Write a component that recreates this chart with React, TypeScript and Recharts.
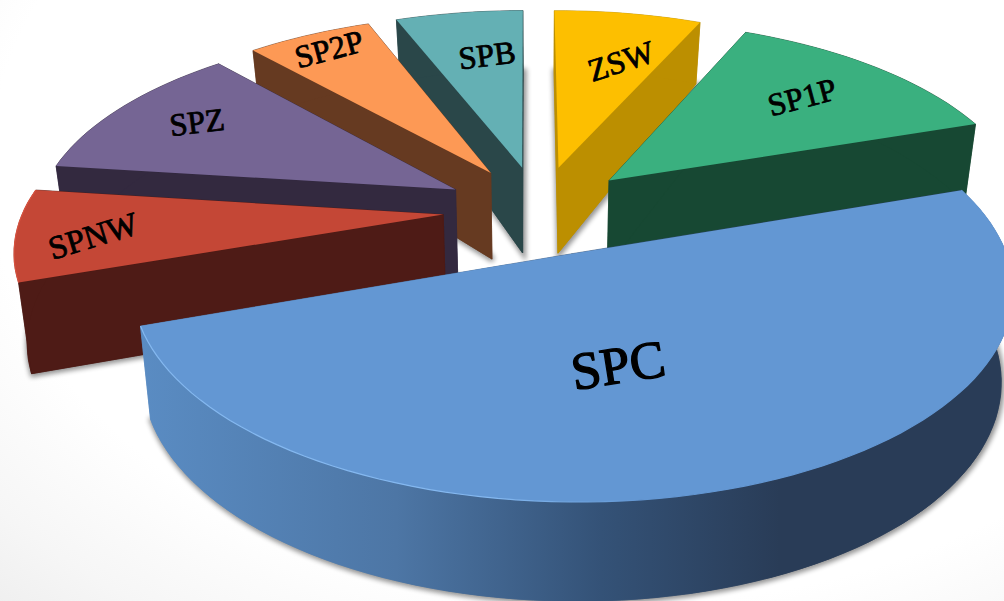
import React from 'react';
import { PieChart, Pie } from 'recharts';

const categories = ['SP1P', 'ZSW', 'SPB', 'SP2P', 'SPZ', 'SPNW', 'SPC'];
const shares = [13.2, 6.7, 5.8, 5.7, 11.4, 7.4, 49.9];

const faceColors = ['#3ab07f', '#fdbf00', '#64b0b4', '#fd9955', '#756594', '#c44736', '#6397d3'];
const wallColors = ['#174833', '#bc8f00', '#2a4749', '#663a21', '#33293f', '#4e1b16', 'url(#spcWall)'];
const rimColors = ['none', 'none', 'none', 'none', 'none', '#d9523f', 'url(#spcRim)'];

const labelX = [802, 621, 487, 329, 197, 93, 618];
const labelY = [97, 61, 55, 49, 122, 236, 365];
const labelAngle = [-15, -18, -7, -15, -7, -17, -9];
const labelSize = [32, 32, 32, 32, 32, 33, 53];

const data = categories.map((name, i) => ({ name, value: shares[i] }));

// perspective of the pie plane, fitted by eye
const CX = 539.5;
const CY = 210;
const RX = 419.5;
const RY = 194;
const PERSP = 0.157;
const EXPLODE = 0.23;
const RAD = Math.PI / 180;
const BACK_SLICE = 1; // ZSW sits behind SP1P, so it gets painted first

const project = (px: number, py: number) => {
  const f = 1 + PERSP * py;
  return { x: CX + (RX * px) / f, y: CY - (RY * py) / f };
};

const thickness = (py: number) => (py < 0.2 ? 87.9 - 9.3 * py : 86 - 26 * (py - 0.2));

const drop = (px: number, py: number) => {
  const p = project(px, py);
  return { x: CX + (p.x - CX) * 0.975, y: p.y + thickness(py) };
};

type Pt = { x: number; y: number };
const toPath = (pts: Pt[], close = true) =>
  pts.map((p, i) => `${i ? 'L' : 'M'}${p.x.toFixed(1)},${p.y.toFixed(1)}`).join('') + (close ? 'Z' : '');

const Slice3D = (props: any) => {
  const { startAngle, endAngle, index } = props;
  const mid = ((startAngle + endAngle) / 2) * RAD;
  const ox = EXPLODE * Math.cos(mid);
  const oy = EXPLODE * Math.sin(mid);
  const steps = Math.max(8, Math.ceil(Math.abs(endAngle - startAngle) / 2));
  const arc: [number, number][] = [];
  for (let s = 0; s <= steps; s++) {
    const a = (startAngle + ((endAngle - startAngle) * s) / steps) * RAD;
    arc.push([ox + Math.cos(a), oy + Math.sin(a)]);
  }
  const topArc = arc.map(([x, y]) => project(x, y));
  const lowArc = arc.map(([x, y]) => drop(x, y));
  const apexTop = project(ox, oy);
  const apexLow = drop(ox, oy);
  const wall = wallColors[index];
  const wallProps = { fill: wall, stroke: wall, strokeWidth: 0.6 };

  return (
    <g>
      <path
        d={toPath([apexLow, ...lowArc])}
        fill="#000"
        stroke="#000"
        strokeWidth={5}
        opacity={0.42}
        filter="url(#groundShadow)"
        transform="translate(1,1)"
      />
      <path d={toPath([apexLow, ...lowArc])} {...wallProps} />
      <path d={toPath([apexTop, topArc[0], lowArc[0], apexLow])} {...wallProps} />
      <path d={toPath([apexTop, topArc[steps], lowArc[steps], apexLow])} {...wallProps} />
      <path d={toPath([...topArc, ...[...lowArc].reverse()])} {...wallProps} />
      <path d={toPath([apexTop, ...topArc])} fill={faceColors[index]} />
      {rimColors[index] !== 'none' && (
        <path d={toPath(topArc, false)} fill="none" stroke={rimColors[index]} strokeWidth={1.2} />
      )}
    </g>
  );
};

const renderLabel = ({ index }: any) => (
  <text
    x={labelX[index]}
    y={labelY[index]}
    textAnchor="middle"
    dominantBaseline="central"
    transform={`rotate(${labelAngle[index]} ${labelX[index]} ${labelY[index]})`}
    fontFamily="'Liberation Serif', serif"
    fontSize={labelSize[index]}
    fill="#000"
    stroke="#000"
    strokeWidth={index === 6 ? 1.3 : 0.8}
  >
    {categories[index]}
  </text>
);

const pieProps = {
  data,
  dataKey: 'value',
  nameKey: 'name',
  cx: CX,
  cy: CY,
  outerRadius: 100,
  startAngle: 18.7,
  endAngle: 378.7,
  stroke: 'none',
  isAnimationActive: false,
};

const App = () => (
  <div
    style={{
      position: 'absolute',
      left: 0,
      top: 0,
      width: 1004,
      height: 601,
      overflow: 'hidden',
      background: 'radial-gradient(ellipse 900px 620px at 620px 170px, #ffffff 70%, #f6f6f6 88%, #eeeeee 100%)',
    }}
  >
    <PieChart width={1004} height={601} margin={{ top: 0, right: 0, bottom: 0, left: 0 }}>
      <defs>
        <linearGradient id="spcWall" gradientUnits="userSpaceOnUse" x1="140" y1="0" x2="780" y2="0">
          <stop offset="0%" stopColor="#5a8cc3" />
          <stop offset="40%" stopColor="#4d76a5" />
          <stop offset="72%" stopColor="#345277" />
          <stop offset="100%" stopColor="#293c57" />
        </linearGradient>
        <linearGradient id="spcRim" gradientUnits="userSpaceOnUse" x1="150" y1="0" x2="640" y2="0">
          <stop offset="0%" stopColor="#84b8f0" />
          <stop offset="70%" stopColor="#84b8f0" />
          <stop offset="100%" stopColor="#6397d3" />
        </linearGradient>
        <filter id="groundShadow" x="-10%" y="-10%" width="120%" height="120%">
          <feGaussianBlur stdDeviation="2.5" />
        </filter>
      </defs>
      <Pie {...pieProps} shape={(p: any) => (p.index === BACK_SLICE ? <Slice3D {...p} /> : <g />)} />
      <Pie
        {...pieProps}
        labelLine={false}
        label={renderLabel}
        shape={(p: any) => (p.index === BACK_SLICE ? <g /> : <Slice3D {...p} />)}
      />
    </PieChart>
  </div>
);

export default App;
